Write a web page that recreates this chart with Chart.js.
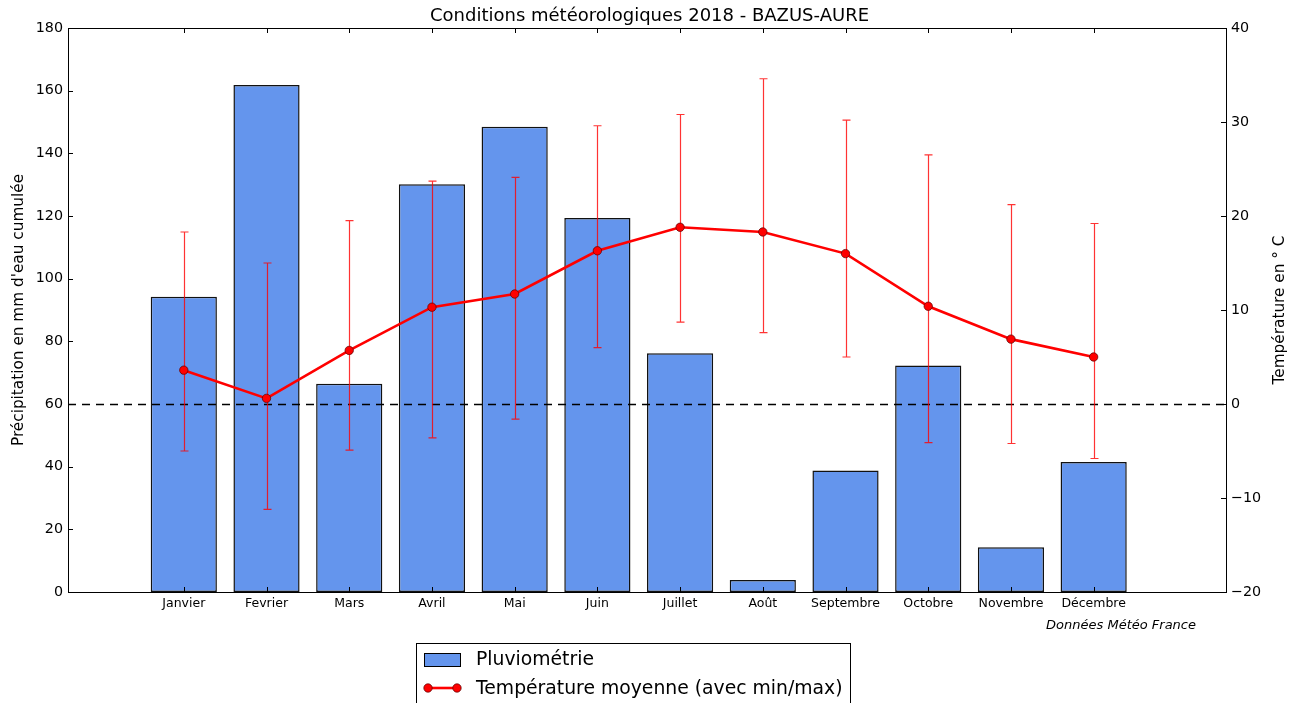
<!DOCTYPE html>
<html lang="fr">
<head>
<meta charset="utf-8">
<title>Conditions météorologiques 2018 - BAZUS-AURE</title>
<script src="https://cdn.jsdelivr.net/npm/chart.js@4.4.0/dist/chart.umd.min.js"></script>
<style>
  html, body { margin: 0; padding: 0; background: #fff; }
  #cadre { width: 1299px; height: 703px; position: relative; }
</style>
</head>
<body>
<div id="cadre"><canvas id="graphique"></canvas></div>
<script>
const mois = ["Janvier", "Fevrier", "Mars", "Avril", "Mai", "Juin", "Juillet", "Août", "Septembre", "Octobre", "Novembre", "Décembre"];
const pluie = [94.2, 161.8, 66.5, 130.1, 148.5, 119.4, 76.2, 3.8, 38.8, 72.3, 14.3, 41.5];
const tempMoyenne = [3.6, 0.6, 5.7, 10.3, 11.7, 16.3, 18.8, 18.3, 16.0, 10.4, 6.9, 5.0];
const tempMax = [18.3, 15.0, 19.5, 23.7, 24.1, 29.6, 30.8, 34.6, 30.2, 26.5, 21.2, 19.2];
const tempMin = [-5.0, -11.2, -4.9, -3.6, -1.6, 6.0, 8.7, 7.6, 5.0, -4.1, -4.2, -5.8];
const ticksPluie = [0, 20, 40, 60, 80, 100, 120, 140, 160, 180];
const ticksTemp = [-20, -10, 0, 10, 20, 30, 40];

const POLICE = "'DejaVu Sans', sans-serif";
const DECALAGE = 1.4; // centre des barres : i + 1.4 sur un axe 0..14

Chart.defaults.font.family = POLICE;
Chart.defaults.color = "#000";

function moins(v) {
    return v < 0 ? "\u2212" + Math.abs(v) : String(v);
}

const decor = {
    id: "decor",
    beforeDatasetDraw(chart, args) {
        if (args.index !== 1) return;
        const { ctx, chartArea: a, scales: { x, yT } } = chart;
        ctx.save();
        // ligne du zéro
        const y0 = Math.round(yT.getPixelForValue(0)) + 0.5;
        ctx.setLineDash([8, 6]);
        ctx.strokeStyle = "#000";
        ctx.lineWidth = 1.3;
        ctx.beginPath();
        ctx.moveTo(a.left, y0);
        ctx.lineTo(a.right, y0);
        ctx.stroke();
        ctx.setLineDash([]);
        // barres min / max
        ctx.strokeStyle = "rgba(255,0,0,0.8)";
        ctx.lineWidth = 1.2;
        tempMoyenne.forEach((_, i) => {
            const px = Math.round(x.getPixelForValue(i + DECALAGE)) + 0.5;
            const yh = yT.getPixelForValue(tempMax[i]);
            const yb = yT.getPixelForValue(tempMin[i]);
            ctx.beginPath();
            ctx.moveTo(px, yh); ctx.lineTo(px, yb);
            ctx.moveTo(px - 4, yh); ctx.lineTo(px + 4, yh);
            ctx.moveTo(px - 4, yb); ctx.lineTo(px + 4, yb);
            ctx.stroke();
        });
        ctx.restore();
    },
    afterDraw(chart) {
        const { ctx, chartArea: a, scales: { x, y, yT } } = chart;
        ctx.save();
        // cadre
        ctx.strokeStyle = "#000";
        ctx.lineWidth = 1;
        ctx.strokeRect(a.left + 0.5, a.top + 0.5, a.right - a.left, a.bottom - a.top);
        // petites graduations vers l'intérieur
        ctx.beginPath();
        x.ticks.forEach(t => {
            const px = Math.round(x.getPixelForValue(t.value)) + 0.5;
            ctx.moveTo(px, a.bottom); ctx.lineTo(px, a.bottom - 5);
            ctx.moveTo(px, a.top); ctx.lineTo(px, a.top + 5);
        });
        y.ticks.forEach(t => {
            const py = Math.round(y.getPixelForValue(t.value)) + 0.5;
            ctx.moveTo(a.left, py); ctx.lineTo(a.left + 5, py);
        });
        yT.ticks.forEach(t => {
            const py = Math.round(yT.getPixelForValue(t.value)) + 0.5;
            ctx.moveTo(a.right, py); ctx.lineTo(a.right - 5, py);
        });
        ctx.stroke();

        // titre de l'axe de droite (lu de bas en haut)
        ctx.save();
        ctx.translate(1280, (a.top + a.bottom) / 2);
        ctx.rotate(-Math.PI / 2);
        ctx.font = "15.3px " + POLICE;
        ctx.textAlign = "center";
        ctx.textBaseline = "middle";
        ctx.fillStyle = "#000";
        ctx.fillText("Température en ° C", 0, 0);
        ctx.restore();

        // source
        ctx.font = "italic 13px " + POLICE;
        ctx.textAlign = "right";
        ctx.textBaseline = "middle";
        ctx.fillStyle = "#000";
        ctx.fillText("Données Météo France", 1196, 626);

        // légende
        const ds = chart.data.datasets;
        ctx.fillStyle = "#fff";
        ctx.fillRect(416, 643, 434, 80);
        ctx.strokeStyle = "#000";
        ctx.lineWidth = 1;
        ctx.strokeRect(416.5, 643.5, 434, 80);
        ctx.fillStyle = ds[0].backgroundColor;
        ctx.fillRect(424, 653, 36, 13);
        ctx.strokeRect(424.5, 653.5, 36, 13);
        ctx.strokeStyle = ds[1].borderColor;
        ctx.lineWidth = ds[1].borderWidth;
        ctx.beginPath();
        ctx.moveTo(428, 688); ctx.lineTo(457, 688);
        ctx.stroke();
        [428, 457].forEach(cx => {
            ctx.beginPath();
            ctx.arc(cx, 688, 4.2, 0, Math.PI * 2);
            ctx.fillStyle = ds[1].pointBackgroundColor;
            ctx.fill();
            ctx.lineWidth = 0.8;
            ctx.strokeStyle = ds[1].pointBorderColor;
            ctx.stroke();
        });
        ctx.font = "18.8px " + POLICE;
        ctx.textAlign = "left";
        ctx.fillStyle = "#000";
        ctx.fillText(ds[0].label, 476, 660);
        ctx.fillText(ds[1].label, 476, 689);
        ctx.restore();
    }
};

new Chart(document.querySelector("#graphique"), {
    type: "bar",
    data: {
        datasets: [{
            type: "bar",
            label: "Pluviométrie",
            data: pluie.map((v, i) => ({ x: i + DECALAGE, y: v })),
            yAxisID: "y",
            backgroundColor: "#6495ED",
            borderColor: "#111",
            borderWidth: 1.5,
            borderSkipped: false,
            barPercentage: 0.8,
            categoryPercentage: 1.0,
            order: 2
        }, {
            type: "line",
            label: "Température moyenne (avec min/max)",
            data: tempMoyenne.map((v, i) => ({ x: i + DECALAGE, y: v })),
            yAxisID: "yT",
            borderColor: "#ff0000",
            borderWidth: 2.6,
            tension: 0,
            pointRadius: 4.2,
            pointBackgroundColor: "#ff0000",
            pointBorderColor: "rgba(90,0,0,0.9)",
            pointBorderWidth: 0.8,
            order: 1
        }]
    },
    options: {
        responsive: true,
        maintainAspectRatio: false,
        animation: false,
        layout: { padding: 0 },
        plugins: {
            legend: { display: false },
            tooltip: { enabled: false },
            title: {
                display: true,
                text: "Conditions météorologiques 2018 - BAZUS-AURE",
                color: "#000",
                font: { size: 18, weight: "normal" },
                padding: { top: 6, bottom: 0.4 }
            }
        },
        scales: {
            x: {
                type: "linear",
                min: 0,
                max: 14,
                offset: false,
                grid: { display: false, drawTicks: false, offset: false },
                border: { display: false },
                afterBuildTicks: s => { s.ticks = mois.map((m, i) => ({ value: i + DECALAGE })); },
                ticks: {
                    autoSkip: false,
                    maxRotation: 0,
                    padding: 4,
                    font: { size: 12.5 },
                    callback: (v, i) => mois[i]
                },
                afterFit: s => { s.height = 111; }
            },
            y: {
                position: "left",
                min: 0,
                max: 180,
                grid: { display: false, drawTicks: false },
                border: { display: false },
                afterBuildTicks: s => { s.ticks = ticksPluie.map(v => ({ value: v })); },
                ticks: { padding: 5, font: { size: 14.3 } },
                title: {
                    display: true,
                    text: "Précipitation en mm d'eau cumulée",
                    font: { size: 15.3 },
                    padding: { top: 10, bottom: 0 }
                },
                afterFit: s => { s.width = 68; }
            },
            yT: {
                position: "right",
                min: -20,
                max: 40,
                grid: { display: false, drawTicks: false },
                border: { display: false },
                afterBuildTicks: s => { s.ticks = ticksTemp.map(v => ({ value: v })); },
                ticks: { padding: 5, font: { size: 14.3 }, callback: v => moins(v) },
                afterFit: s => { s.width = 73; }
            }
        }
    },
    plugins: [decor]
});
</script>
</body>
</html>
